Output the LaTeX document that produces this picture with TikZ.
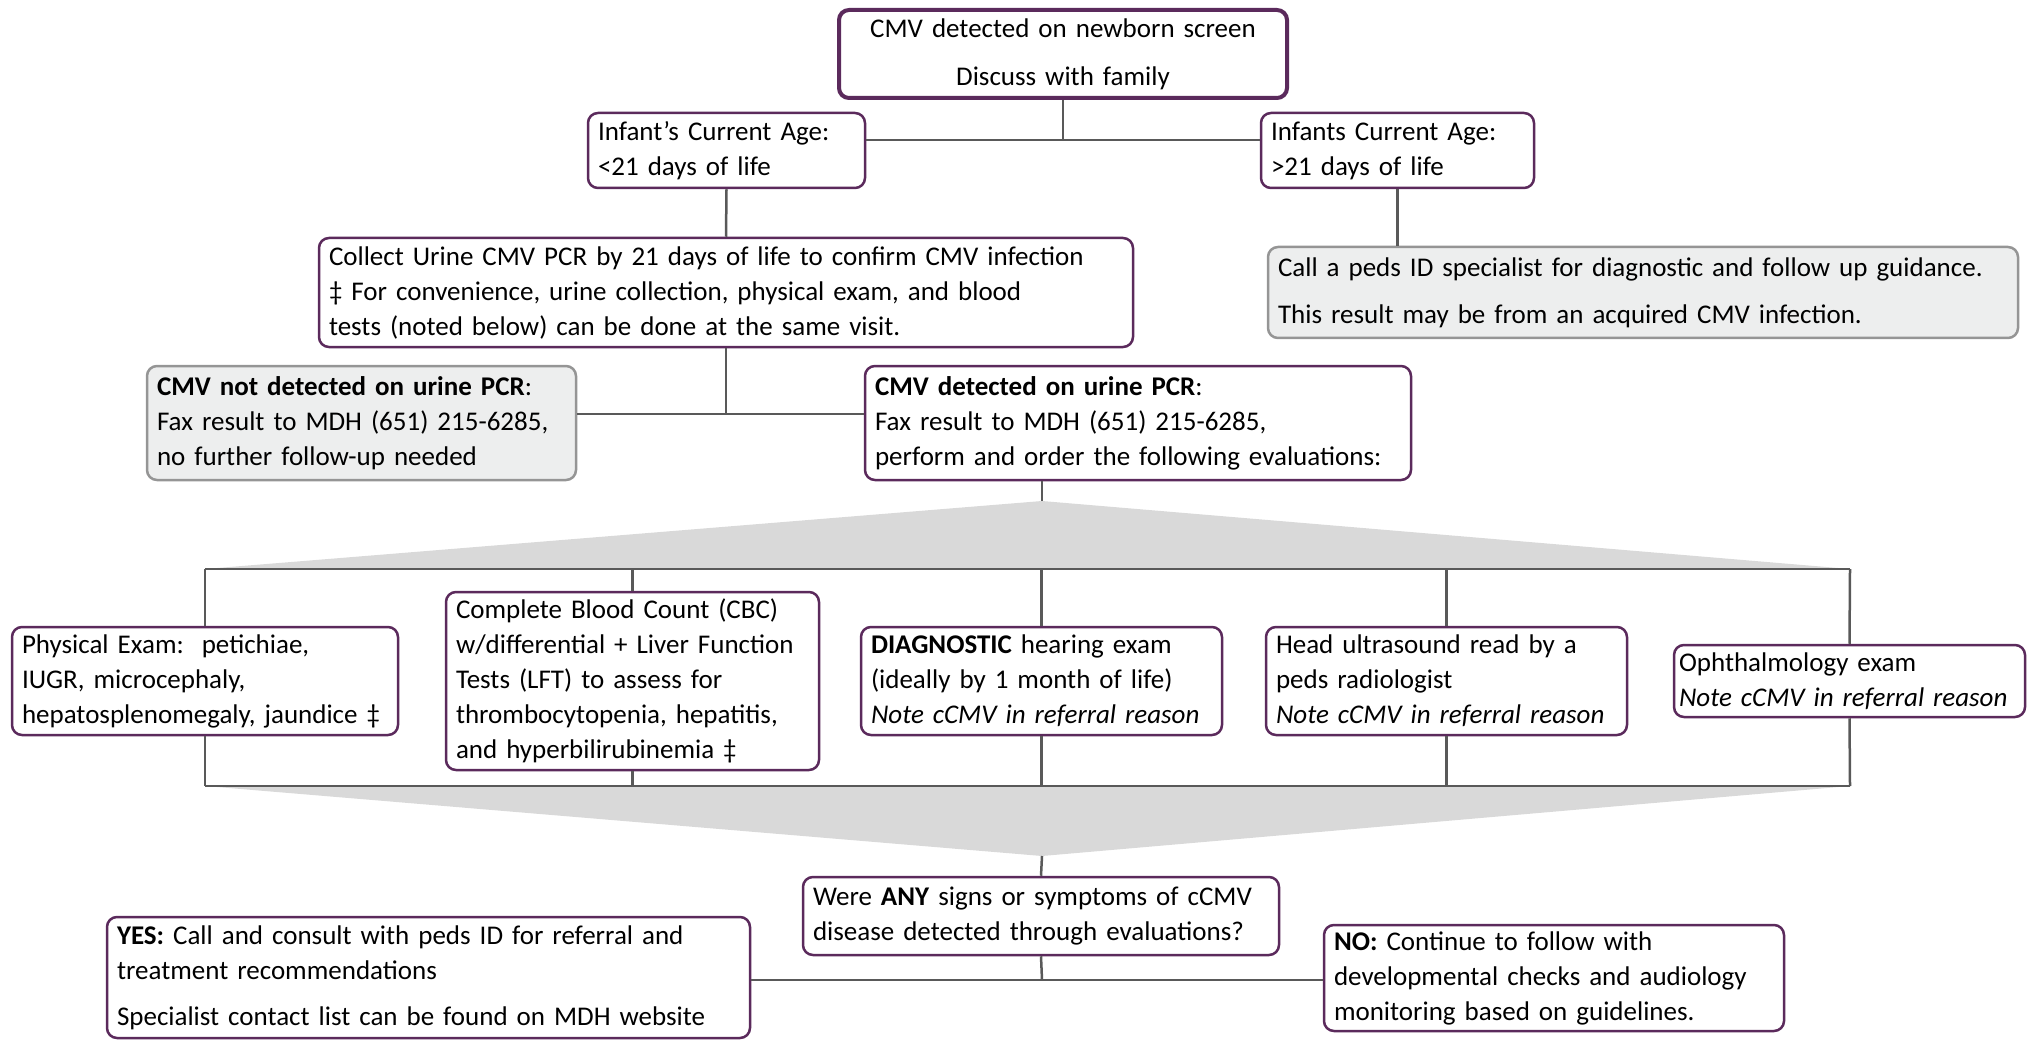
\documentclass[tikz,border=0pt]{standalone}
\usepackage{fontspec}
\setmainfont{Carlito}
\definecolor{purp}{HTML}{5B2A5C}
\definecolor{lnk}{HTML}{595959}
\definecolor{gfill}{HTML}{EDEEEE}
\definecolor{gbord}{HTML}{959595}
\definecolor{wedge}{HTML}{D9D9D9}
\tikzset{
  box/.style={draw=purp, line width=2.5pt, rounded corners=10pt, fill=white,
    align=left, inner xsep=10pt, inner ysep=0pt,
    font=\fontsize{27}{35}\selectfont},
  graybox/.style={box, draw=gbord, fill=gfill},
  link/.style={draw=lnk, line width=2.5pt},
}
\newcommand{\bx}[6][box]{%
  \node[#1, minimum width=#4pt, minimum height=#5pt, text width=#4pt-20pt] (#2) at (#3) {#6};}
\begin{document}
\begin{tikzpicture}[x=1pt,y=-1pt]
\useasboundingbox (0,0) rectangle (2028,1040);
% wedges
\coordinate (apex1) at (1042,501);
\coordinate (bL) at (205,569);
\coordinate (bR) at (1850,569);
\coordinate (cL) at (205,786);
\coordinate (cR) at (1850,786);
\coordinate (apex2) at (1042,856);
\fill[wedge] (apex1) -- (bR) -- (bL) -- cycle;
\fill[wedge] (apex2) -- (cR) -- (cL) -- cycle;

% boxes
\node[box, line width=4pt, align=center, minimum width=448pt, minimum height=88pt, text width=428pt] (top) at (1063,54)
  {CMV detected on newborn screen\\[13pt]Discuss with family};
\bx{ageL}{726.5,150.5}{277}{75}{Infant’s Current Age:\\<21 days of life}
\bx{ageR}{1397.5,150.5}{273}{75}{Infants Current Age:\\>21 days of life}
\bx{collect}{726,292.5}{814}{109}{Collect Urine CMV PCR by 21 days of life to confirm CMV infection\\‡ For convenience, urine collection, physical exam, and blood\\tests (noted below) can be done at the same visit.}
\bx[graybox]{grayR}{1643,292.5}{750}{91}{Call a peds ID specialist for diagnostic and follow up guidance.\\[12pt]This result may be from an acquired CMV infection.}
\bx[graybox]{notdet}{361.5,423}{429}{114}{\textbf{CMV not detected on urine PCR}:\\Fax result to MDH (651) 215-6285,\\no further follow-up needed}
\bx{det}{1138,423}{546}{114}{\textbf{CMV detected on urine PCR}:\\Fax result to MDH (651) 215-6285,\\perform and order the following evaluations:}
\bx{pe}{205,681}{386}{108}{Physical Exam:\ \ petichiae,\\IUGR, microcephaly,\\hepatosplenomegaly, jaundice ‡}
\bx{cbc}{632.5,681}{373}{178}{Complete Blood Count (CBC)\\w/differential + Liver Function\\Tests (LFT) to assess for\\thrombocytopenia, hepatitis,\\and hyperbilirubinemia ‡}
\bx{diag}{1041.5,681}{361}{108}{\textbf{DIAGNOSTIC} hearing exam\\(ideally by 1 month of life)\\\textit{Note cCMV in referral reason}}
\bx{head}{1446.5,681}{361}{108}{Head ultrasound read by a\\peds radiologist\\\textit{Note cCMV in referral reason}}
\node[box, minimum width=351pt, minimum height=72pt, text width=341pt, inner xsep=5pt] (oph) at (1849.5,681)
  {Ophthalmology exam\\\textit{Note cCMV in referral reason}};
\bx{q}{1041,916}{476}{78}{Were \textbf{ANY} signs or symptoms of cCMV\\disease detected through evaluations?}
\bx{yes}{428.5,977.5}{643}{121}{\textbf{YES:} Call and consult with peds ID for referral and\\treatment recommendations\\[11pt]Specialist contact list can be found on MDH website}
\bx{no}{1554,978}{460}{106}{\textbf{NO:} Continue to follow with\\developmental checks and audiology\\monitoring based on guidelines.}

% connectors
\coordinate (j1) at (1063,140);
\coordinate (j2) at (726,414);
\coordinate (j3) at (1042,980);
\draw[link] (top.south) -- (j1);
\draw[link] (ageL.east |- j1) -- (ageR.west |- j1);
\draw[link] (ageL.south) -- (collect.north);
\draw[link] (ageR.south) -- (ageR.south |- grayR.north);
\draw[link] (collect.south) -- (j2);
\draw[link] (notdet.east |- j2) -- (det.west |- j2);
\draw[link] (det.south -| apex1) -- (apex1);
\draw[link] (bL) -- (bR);
\draw[link] (bL) -- (pe.north);
\draw[link] (cbc.north |- bL) -- (cbc.north);
\draw[link] (diag.north |- bL) -- (diag.north);
\draw[link] (head.north |- bL) -- (head.north);
\draw[link] (bR) -- (oph.north);
\draw[link] (cL) -- (cR);
\draw[link] (pe.south) -- (cL);
\draw[link] (cbc.south) -- (cbc.south |- cL);
\draw[link] (diag.south) -- (diag.south |- cL);
\draw[link] (head.south) -- (head.south |- cL);
\draw[link] (oph.south) -- (cR);
\draw[link] (apex2) -- (q.north);
\draw[link] (q.south) -- (j3);
\draw[link] (yes.east |- j3) -- (no.west |- j3);
\end{tikzpicture}
\end{document}
